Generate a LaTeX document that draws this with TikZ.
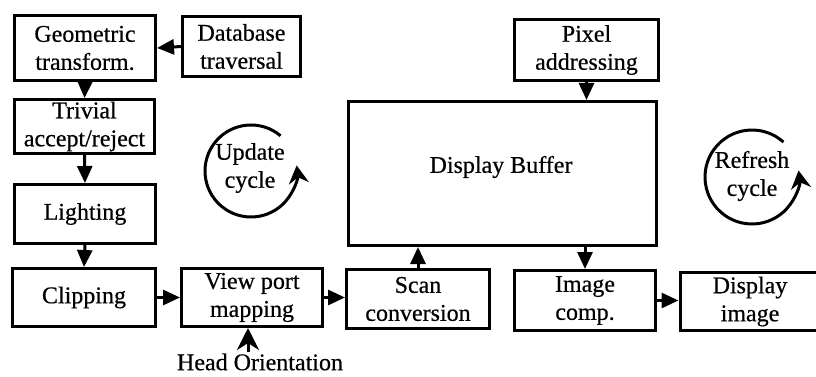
\documentclass[tikz,border=0pt]{standalone}
\usepackage{fontspec}
\setmainfont{Liberation Serif}
\newfontfamily\inkfont{Liberation Serif}[FakeBold=0.5]
\usetikzlibrary{arrows.meta,calc}

\begin{document}
\begin{tikzpicture}[x=1pt,y=-1pt,
  blk/.style={draw, line width=3pt, align=center, inner sep=0pt,
    font=\inkfont\fontsize{24}{28}\selectfont},
  lbl/.style={align=center, inner sep=1pt, font=\inkfont\fontsize{24}{28}\selectfont},
  conn/.style={line width=3pt, -{Triangle[length=17pt,width=15pt]}},
  harrow/.style={line width=3pt, -{Stealth[length=22pt,width=22pt,inset=7pt]}},
  cyc/.style={line width=3pt, -{Stealth[length=18pt,width=20pt,inset=6pt]}},
]
\useasboundingbox (0,0) rectangle (816,377);
\fill[white] (0,0) rectangle (816,377);

% update pipeline
\node[blk, minimum width=141, minimum height=65] (geo)   at (85,48)     {Geometric\\transform.};
\node[blk, minimum width=118, minimum height=60] (db)    at (241.5,46.5) {Database\\traversal};
\node[blk, minimum width=140, minimum height=54] (triv)  at (84.5,126.5) {Trivial\\accept/reject};
\node[blk, minimum width=141, minimum height=59] (light) at (85,214)    {Lighting};
\node[blk, minimum width=143, minimum height=58] (clip)  at (84,297.5)  {Clipping};
\node[blk, minimum width=141, minimum height=58] (view)  at (252,297.5) {View port\\mapping};
\node[blk, minimum width=143, minimum height=59] (scan)  at (418,299)   {Scan\\conversion};

% refresh side
\node[blk, minimum width=144, minimum height=61]  (pixel) at (586.5,50)    {Pixel\\addressing};
\node[blk, minimum width=308, minimum height=144] (buf)   at (502.5,173.5) {};
\node[lbl] (buftext) at (501,167) {Display Buffer};
\node[blk, minimum width=141, minimum height=60]  (img)   at (585,300.5)   {Image\\comp.};
\node[blk, minimum width=140, minimum height=58]  (dimg)  at (750,301.5)   {Display\\image};

\node[lbl] (ho) at (260,362) {Head Orientation};

% connectors
\draw[conn] (db.west) -- (geo.east);
\draw[conn] (geo.south) -- (triv.north);
\draw[conn] (triv.south) -- (light.north);
\draw[conn] (light.south) -- (clip.north);
\draw[conn] (clip.east) -- (view.west);
\draw[conn] (view.east) -- (view.east -| scan.west);
\draw[conn] (scan.north) -- (scan.north |- buf.south);
\draw[conn] (pixel.south) -- (pixel.south |- buf.north);
\draw[conn] (img.north |- buf.south) -- (img.north);
\draw[conn] (img.east) -- (img.east -| dimg.west);
\draw[harrow] ([xshift=-4pt]ho.north -| view.south) -- ([xshift=-4pt]view.south);

% cycle markers
\node[lbl] (upd) at (250,168) {Update\\cycle};
\coordinate (uc) at (251,171);
\draw[cyc] ($(uc)+(50:46pt)$) arc[start angle=50, end angle=367, radius=46pt];

\node[lbl] (rfr) at (752,176) {Refresh\\cycle};
\coordinate (rc) at (752,177);
\draw[cyc] ($(rc)+(48:47pt)$) arc[start angle=48, end angle=368, radius=47pt];
\end{tikzpicture}
\end{document}
